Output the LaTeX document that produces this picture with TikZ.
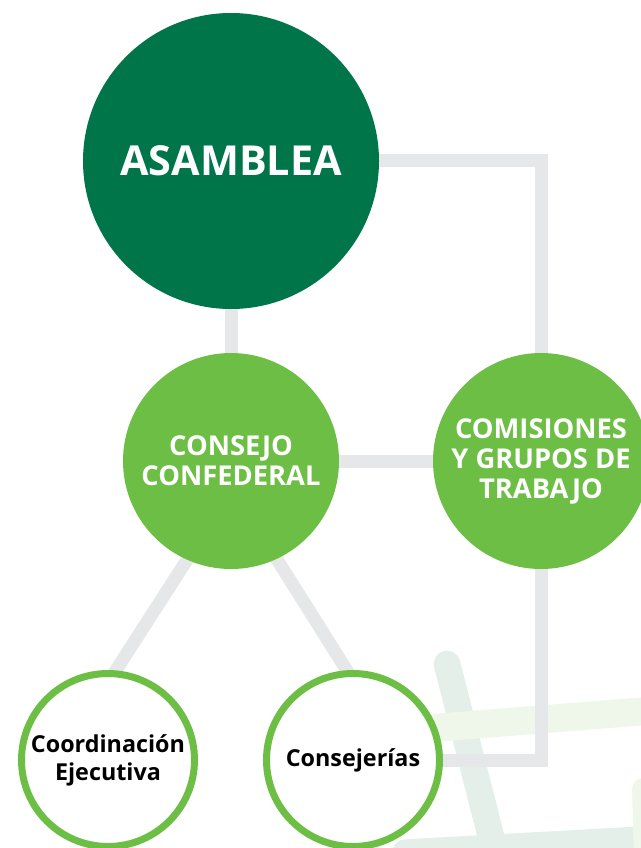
\documentclass[tikz,border=0pt]{standalone}
\usepackage{fontspec}
\setmainfont{Open Sans}
\definecolor{asamblea}{HTML}{00754A}
\definecolor{verde}{HTML}{6DBE45}
\definecolor{gris}{HTML}{E6E7E8}
\definecolor{trazo}{HTML}{E4EFE9}
\definecolor{trazoclaro}{HTML}{EFF6EA}
\pgfdeclarelayer{trazos}
\pgfdeclarelayer{lineas}
\pgfsetlayers{trazos,lineas,main}

\begin{document}
\begin{tikzpicture}[x=0.75pt, y=-0.75pt, font=\bfseries]
\tikzstyle{organo} = [circle, inner sep=0pt, align=center, text=white]
\tikzstyle{mayor} = [organo, fill=asamblea, minimum size=222pt, font=\fontsize{31}{36}\selectfont\bfseries]
\tikzstyle{medio} = [organo, fill=verde, minimum size=162pt, font=\fontsize{20.5}{22.5}\selectfont\bfseries]
\tikzstyle{menor} = [circle, inner sep=0pt, align=center, draw=verde, line width=5.25pt, fill=white, minimum size=129.75pt, font=\fontsize{17.5}{21}\selectfont\bfseries]
\tikzstyle{enlace} = [draw=gris, line width=9.75pt]
\tikzstyle{pincel} = [line cap=round]

\useasboundingbox (0,0) rectangle (641,848);

\node[mayor] (asamblea) at (231,161) {ASAMBLEA};
\node[medio] (consejo) at (231,461) {CONSEJO\\CONFEDERAL};
\node[medio] (comisiones) at (541,461) {COMISIONES\\Y GRUPOS DE\\TRABAJO};
\node[menor] (coordinacion) at (108,760) {Coordinación\\Ejecutiva};
\node[menor] (consejerias) at (353,760) {Consejerías};

\begin{pgfonlayer}{lineas}
\draw[enlace] (asamblea) -- (consejo);
\draw[enlace] (consejo) -- (comisiones);
\draw[enlace] (asamblea) -| (comisiones);
\draw[enlace] (comisiones) |- (consejerias);
\draw[enlace, shorten <=-20pt, shorten >=-20pt] (consejo.246) -- (coordinacion.85);
\draw[enlace, shorten <=-20pt, shorten >=-20pt] (consejo.295) -- (consejerias.94);
\end{pgfonlayer}

\begin{pgfonlayer}{trazos}
\draw[pincel, draw=trazo, line width=20pt] (447,664) -- (497,860);
\draw[pincel, draw=trazoclaro, line width=21pt] (420,729) -- (660,710);
\draw[pincel, draw=trazo, line width=19pt] (405,852) -- (660,838);
\draw[pincel, draw=trazoclaro, line width=16.5pt] (643,789) -- (645,860);
\end{pgfonlayer}
\end{tikzpicture}
\end{document}
